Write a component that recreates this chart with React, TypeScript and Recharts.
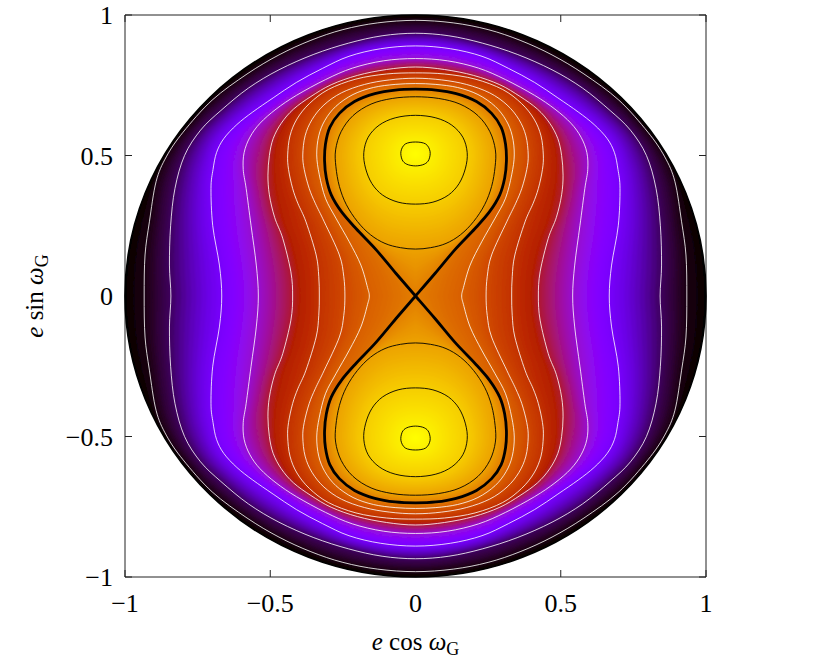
import React from 'react';
import { ScatterChart, Scatter, XAxis, YAxis } from 'recharts';

type P = [number, number];

const CHART_W = 830;
const CHART_H = 664;
const FONT = "'Liberation Serif', 'Times New Roman', serif";

// ---- axis ticks ----
const AXIS_TICKS = [-1, -0.5, 0, 0.5, 1];

// reference points of the e = 1 boundary circle
const boundaryRef = [
  { x: -1, y: 0 },
  { x: 1, y: 0 },
  { x: 0, y: 1 },
  { x: 0, y: -1 },
];

// fixed points (centres of the two islands)
const fixedPoints: P[] = [[0, 0.505], [0, -0.505]];

// ---- contour lines (quadrant x>=0, y>=0) ----
// white contours: from the e cos w axis crossing up to the e sin w axis crossing
const white1: P[] = [[0.934, 0], [0.931, 0.146], [0.916, 0.264], [0.893, 0.407], [0.858, 0.495], [0.8, 0.583], [0.7, 0.697], [0.58, 0.79], [0.47, 0.858], [0.36, 0.91], [0.25, 0.948], [0.13, 0.972], [0, 0.981]];
const white2: P[] = [[0.842, 0], [0.847, 0.11], [0.843, 0.25], [0.828, 0.383], [0.795, 0.5], [0.74, 0.59], [0.67, 0.66], [0.575, 0.74], [0.47, 0.805], [0.35, 0.86], [0.23, 0.9], [0.115, 0.926], [0, 0.935]];
const white3: P[] = [[0.667, 0], [0.675, 0.11], [0.698, 0.25], [0.704, 0.383], [0.697, 0.45], [0.685, 0.51], [0.66, 0.56], [0.615, 0.61], [0.56, 0.655], [0.49, 0.705], [0.41, 0.76], [0.32, 0.81], [0.229, 0.853], [0.12, 0.88], [0, 0.89]];
const white4: P[] = [[0.541, 0], [0.548, 0.11], [0.566, 0.25], [0.583, 0.383], [0.593, 0.45], [0.59, 0.51], [0.57, 0.565], [0.535, 0.615], [0.48, 0.665], [0.41, 0.714], [0.31, 0.77], [0.217, 0.811], [0.11, 0.837], [0, 0.845]];
const white5: P[] = [[0.423, 0], [0.429, 0.086], [0.457, 0.205], [0.485, 0.28], [0.503, 0.36], [0.508, 0.43], [0.503, 0.5], [0.49, 0.56], [0.462, 0.615], [0.42, 0.665], [0.36, 0.71], [0.29, 0.752], [0.2, 0.785], [0.1, 0.806], [0, 0.815]];
const white6: P[] = [[0.331, 0], [0.333, 0.07], [0.342, 0.146], [0.377, 0.264], [0.405, 0.33], [0.423, 0.383], [0.437, 0.45], [0.44, 0.502], [0.432, 0.57], [0.408, 0.63], [0.365, 0.685], [0.3, 0.735], [0.205, 0.772], [0.1, 0.79], [0, 0.794]];
const white7: P[] = [[0.243, 0], [0.247, 0.07], [0.262, 0.146], [0.314, 0.264], [0.345, 0.33], [0.366, 0.383], [0.383, 0.45], [0.388, 0.502], [0.38, 0.57], [0.356, 0.628], [0.315, 0.68], [0.255, 0.723], [0.175, 0.753], [0.09, 0.769], [0, 0.775]];
const white8: P[] = [[0.159, 0], [0.165, 0.03], [0.188, 0.11], [0.228, 0.193], [0.274, 0.277], [0.31, 0.348], [0.331, 0.431], [0.34, 0.502], [0.333, 0.57], [0.312, 0.625], [0.274, 0.675], [0.215, 0.717], [0.145, 0.742], [0.07, 0.753], [0, 0.756]];

// separatrix (thick black): right half of the upper lobe, from the origin to the top
const separatrix: P[] = [[0, 0], [0.067, 0.08], [0.136, 0.165], [0.205, 0.24], [0.255, 0.3], [0.29, 0.36], [0.307, 0.42], [0.313, 0.48], [0.31, 0.54], [0.295, 0.6], [0.262, 0.65], [0.21, 0.692], [0.14, 0.72], [0.07, 0.733], [0, 0.736]];

// thin black loops around the fixed point (0, 0.5): right half, top to bottom
const loop3: P[] = [[0, 0.709], [0.08, 0.703], [0.153, 0.683], [0.215, 0.642], [0.256, 0.585], [0.275, 0.52], [0.274, 0.46], [0.262, 0.39], [0.238, 0.325], [0.2, 0.265], [0.155, 0.218], [0.105, 0.187], [0.052, 0.172], [0, 0.167]];
const loop2: P[] = [[0, 0.643], [0.07, 0.634], [0.125, 0.608], [0.163, 0.565], [0.178, 0.51], [0.172, 0.455], [0.15, 0.4], [0.113, 0.359], [0.06, 0.334], [0, 0.327]];
const loop1: P[] = [[0, 0.548], [0.035, 0.541], [0.05, 0.515], [0.046, 0.485], [0.03, 0.469], [0, 0.463]];

// colour-map value (0 = black ... 1 = yellow) on each contour line
const levels = {
  boundary: 0.0,
  white1: 0.01,
  white2: 0.06,
  white3: 0.22,
  white4: 0.35,
  white5: 0.47,
  white6: 0.58,
  white7: 0.66,
  white8: 0.72,
  separatrix: 0.79,
  loop3: 0.86,
  loop2: 0.93,
  loop1: 0.98,
  centre: 1.0,
};

// ---- table building (symmetry of the picture) ----
type Row = { x: number; y: number };
type Shape = { rows: Row[]; segs: number[]; closed: boolean };

const toRows = (pts: P[]): Row[] => pts.map(([x, y]) => ({ x, y }));

function ring(q: P[]): Shape {
  const a = q;
  const b = [...q].reverse().map(([x, y]) => [-x, y] as P);
  const c = q.map(([x, y]) => [-x, -y] as P);
  const d = [...q].reverse().map(([x, y]) => [x, -y] as P);
  const pts = [...a, ...b, ...c, ...d];
  return { rows: toRows(pts), segs: [pts.length], closed: true };
}

function lobes(h: P[], closed: boolean): Shape {
  const upper = [...h, ...[...h].reverse().map(([x, y]) => [-x, y] as P)];
  const lower = upper.map(([x, y]) => [x, -y] as P);
  return { rows: toRows([...upper, ...lower]), segs: [upper.length, lower.length], closed };
}

const shapes = {
  white1: ring(white1),
  white2: ring(white2),
  white3: ring(white3),
  white4: ring(white4),
  white5: ring(white5),
  white6: ring(white6),
  white7: ring(white7),
  white8: ring(white8),
  separatrix: lobes(separatrix, false),
  loop3: lobes(loop3, true),
  loop2: lobes(loop2, true),
  loop1: lobes(loop1, true),
};
type Key = keyof typeof shapes;

const ringKeys: Key[] = ['white1', 'white2', 'white3', 'white4', 'white5', 'white6', 'white7', 'white8'];
const lobeKeys: Key[] = ['separatrix', 'loop3', 'loop2', 'loop1'];
const shadingKeys: Key[] = [...ringKeys, ...lobeKeys];
// one table for the colour field: boundary refs, fixed points, then every contour
const shadingRows: Row[] = [...boundaryRef, ...toRows(fixedPoints), ...shadingKeys.flatMap((k) => shapes[k].rows)];

// ---- drawing helpers ----
function palette(t: number): string {
  const c = Math.max(0, Math.min(1, t));
  const r = Math.sqrt(c);
  const g = c * c * c;
  const b = Math.max(0, Math.sin(2 * Math.PI * c));
  return `rgb(${Math.round(255 * r)},${Math.round(255 * g)},${Math.round(255 * b)})`;
}

type Pt = { x: number; y: number };

function dedupe(raw: Pt[], eps: number): Pt[] {
  const p: Pt[] = [];
  for (const q of raw) {
    const last = p[p.length - 1];
    if (!last || Math.hypot(q.x - last.x, q.y - last.y) > eps) p.push(q);
  }
  if (p.length > 2 && Math.hypot(p[0].x - p[p.length - 1].x, p[0].y - p[p.length - 1].y) < eps) p.pop();
  return p;
}

function smoothPath(raw: Pt[], closed: boolean): string {
  const p = dedupe(raw, 0.01);
  const n = p.length;
  if (n < 2) return '';
  const get = (i: number) => (closed ? p[((i % n) + n) % n] : p[Math.max(0, Math.min(n - 1, i))]);
  let d = `M${p[0].x.toFixed(2)},${p[0].y.toFixed(2)}`;
  const segCount = closed ? n : n - 1;
  for (let i = 0; i < segCount; i++) {
    const p0 = get(i - 1);
    const p1 = get(i);
    const p2 = get(i + 1);
    const p3 = get(i + 2);
    const c1x = p1.x + (p2.x - p0.x) / 6;
    const c1y = p1.y + (p2.y - p0.y) / 6;
    const c2x = p2.x - (p3.x - p1.x) / 6;
    const c2y = p2.y - (p3.y - p1.y) / 6;
    d += ` C${c1x.toFixed(2)},${c1y.toFixed(2)} ${c2x.toFixed(2)},${c2y.toFixed(2)} ${p2.x.toFixed(2)},${p2.y.toFixed(2)}`;
  }
  return d + ' Z';
}

// same curve as smoothPath, sampled densely (for the colour shading)
function densify(raw: Pt[], closed: boolean, steps = 8): Pt[] {
  const p = dedupe(raw, 0.01);
  const n = p.length;
  const get = (i: number) => (closed ? p[((i % n) + n) % n] : p[Math.max(0, Math.min(n - 1, i))]);
  const out: Pt[] = [];
  const segCount = closed ? n : n - 1;
  for (let i = 0; i < segCount; i++) {
    const p0 = get(i - 1);
    const p1 = get(i);
    const p2 = get(i + 1);
    const p3 = get(i + 2);
    const c1 = { x: p1.x + (p2.x - p0.x) / 6, y: p1.y + (p2.y - p0.y) / 6 };
    const c2 = { x: p2.x - (p3.x - p1.x) / 6, y: p2.y - (p3.y - p1.y) / 6 };
    for (let s = 0; s < steps; s++) {
      const u = s / steps;
      const a = (1 - u) * (1 - u) * (1 - u);
      const b = 3 * (1 - u) * (1 - u) * u;
      const c = 3 * (1 - u) * u * u;
      const d = u * u * u;
      out.push({ x: a * p1.x + b * c1.x + c * c2.x + d * p2.x, y: a * p1.y + b * c1.y + c * c2.y + d * p2.y });
    }
  }
  if (!closed) out.push(p[n - 1]);
  return out;
}

// distance from centre c to the farthest crossing of the ray (angle th) with the polylines
function rayRadius(polys: Pt[][], c: Pt, th: number): number {
  const dx = Math.cos(th);
  const dy = Math.sin(th);
  let best = 0;
  for (const poly of polys) {
    const n = poly.length;
    for (let i = 0; i < n; i++) {
      const a = poly[i];
      const b = poly[(i + 1) % n];
      const ax = a.x - c.x;
      const ay = a.y - c.y;
      const ex = b.x - a.x;
      const ey = b.y - a.y;
      const den = dx * ey - dy * ex;
      if (Math.abs(den) < 1e-12) continue;
      const t = (ax * ey - ay * ex) / den;
      const s = (ax * dy - ay * dx) / den;
      if (s >= -1e-9 && s <= 1 + 1e-9 && t > best) best = t;
    }
  }
  return best;
}

const noShape = () => <g />;

const makeStroke = (s: Shape, color: string, width: number, opacity = 1) => (props: any) => {
  const pts: Pt[] = props && props.points ? props.points : [];
  if (!pts.length) return <g />;
  let start = 0;
  let d = '';
  for (const len of s.segs) {
    d += smoothPath(pts.slice(start, start + len), s.closed) + ' ';
    start += len;
  }
  return <path d={d} fill="none" stroke={color} strokeWidth={width} strokeOpacity={opacity} strokeLinejoin="round" />;
};

function diskGeom(points: Pt[]) {
  const [l, r, t, b] = points;
  return { cx: (l.x + r.x) / 2, cy: (t.y + b.y) / 2, rx: (r.x - l.x) / 2, ry: (b.y - t.y) / 2, l, r, t, b };
}

const ANGLES = 360;
const SUBSTEPS = 10;

const renderShading = (props: any) => {
  const pts: Pt[] = props && props.points ? props.points : [];
  if (pts.length < shadingRows.length) return <g />;
  const g = diskGeom(pts);
  // work in axis-normalised units (the library's pixel points mapped back onto the unit disk)
  const toN = (p: Pt): Pt => ({ x: (p.x - g.cx) / g.rx, y: (g.cy - p.y) / g.ry });
  const toPx = (x: number, y: number) => `${(g.cx + x * g.rx).toFixed(2)},${(g.cy - y * g.ry).toFixed(2)}`;
  const fixedN = [toN(pts[4]), toN(pts[5])];
  let off = 6;
  const curves: Record<string, Pt[][]> = {};
  for (const k of shadingKeys) {
    const s = shapes[k];
    const sub = pts.slice(off, off + s.rows.length).map(toN);
    off += s.rows.length;
    const parts: Pt[][] = [];
    let st = 0;
    for (const len of s.segs) {
      parts.push(densify(sub.slice(st, st + len), s.closed));
      st += len;
    }
    curves[k] = parts;
  }
  const thetas = Array.from({ length: ANGLES }, (_, i) => (2 * Math.PI * i) / ANGLES);
  const origin = { x: 0, y: 0 };
  const radiiOf = (polys: Pt[][], c: Pt) => thetas.map((th) => rayRadius(polys, c, th));

  const paths: React.ReactNode[] = [];
  const drawBands = (rings: number[][], lv: number[], c: Pt, keyBase: string) => {
    for (let band = 0; band < rings.length - 1; band++) {
      const A = rings[band];
      const B = rings[band + 1];
      for (let j = 0; j < SUBSTEPS; j++) {
        const s = j / SUBSTEPS;
        const t = lv[band] + (lv[band + 1] - lv[band]) * ((j + 0.5) / SUBSTEPS);
        let d = '';
        for (let i = 0; i < ANGLES; i++) {
          const rr = A[i] + (B[i] - A[i]) * s;
          d += (i === 0 ? 'M' : 'L') + toPx(c.x + rr * Math.cos(thetas[i]), c.y + rr * Math.sin(thetas[i]));
        }
        paths.push(<path key={`${keyBase}-${band}-${j}`} d={d + 'Z'} fill={palette(t)} />);
      }
    }
  };

  // rings around the origin: boundary -> white1 ... white8 -> figure-eight
  const ringRadii = [thetas.map(() => 1.0), ...ringKeys.map((k) => radiiOf(curves[k], origin)), radiiOf(curves.separatrix, origin)];
  const ringLv = [levels.boundary, ...ringKeys.map((k) => levels[k]), levels.separatrix];
  drawBands(ringRadii, ringLv, origin, 'ring');

  // islands around the two fixed points
  const lobeLv = [...lobeKeys.map((k) => levels[k]), levels.centre];
  [0, 1].forEach((side) => {
    const c = fixedN[side];
    const radii = [...lobeKeys.map((k) => radiiOf([curves[k][side]], c)), thetas.map(() => 0)];
    drawBands(radii, lobeLv, c, 'lobe' + side);
  });

  return (
    <g>
      <defs>
        <clipPath id="diskClip">
          <ellipse cx={g.cx} cy={g.cy} rx={g.rx} ry={g.ry} />
        </clipPath>
        <filter id="softBlur" filterUnits="userSpaceOnUse" x={0} y={0} width={CHART_W} height={CHART_H}>
          <feGaussianBlur stdDeviation={1.2} />
        </filter>
      </defs>
      <ellipse cx={g.cx} cy={g.cy} rx={g.rx} ry={g.ry} fill={palette(levels.boundary)} />
      <g clipPath="url(#diskClip)">
        <g filter="url(#softBlur)">{paths}</g>
      </g>
    </g>
  );
};

const renderOutline = (props: any) => {
  const pts: Pt[] = props && props.points ? props.points : [];
  if (pts.length < 4) return <g />;
  const g = diskGeom(pts);
  return (
    <g>
      <ellipse cx={g.cx} cy={g.cy} rx={g.rx} ry={g.ry} fill="none" stroke="#000" strokeWidth={1.6} />
      <text x={g.cx} y={g.b.y + 73} textAnchor="middle" fontFamily={FONT} fontSize={25} fill="#000">
        <tspan fontStyle="italic">e</tspan>
        <tspan> cos </tspan>
        <tspan fontStyle="italic">ω</tspan>
        <tspan fontSize={18} dy={5}>G</tspan>
      </text>
      <text transform={`translate(${g.l.x - 82},${g.cy}) rotate(-90)`} textAnchor="middle" fontFamily={FONT} fontSize={25} fill="#000">
        <tspan fontStyle="italic">e</tspan>
        <tspan> sin </tspan>
        <tspan fontStyle="italic">ω</tspan>
        <tspan fontSize={18} dy={5}>G</tspan>
      </text>
    </g>
  );
};

const blackThinKeys: Key[] = ['loop3', 'loop2', 'loop1'];

const fmt = (v: number) => (v < 0 ? '\u2212' + String(Math.abs(v)) : String(v));

export default function App() {
  const tickStyle = { fill: '#000', fontSize: 26, fontFamily: FONT };
  return (
    <div style={{ position: 'absolute', left: 0, top: 0, width: CHART_W, height: CHART_H }}>
      <ScatterChart width={CHART_W} height={CHART_H} margin={{ top: 14, right: 123, bottom: 57, left: 65 }}>
        <Scatter data={shadingRows} line={renderShading} shape={noShape} isAnimationActive={false} />
        {ringKeys.map((k) => (
          <Scatter key={'w-' + k} data={shapes[k].rows} line={makeStroke(shapes[k], '#ffffff', 0.9, 0.9)} shape={noShape} isAnimationActive={false} />
        ))}
        {blackThinKeys.map((k) => (
          <Scatter key={'b-' + k} data={shapes[k].rows} line={makeStroke(shapes[k], '#000000', 0.9)} shape={noShape} isAnimationActive={false} />
        ))}
        <Scatter data={shapes.separatrix.rows} line={makeStroke(shapes.separatrix, '#000000', 2.8)} shape={noShape} isAnimationActive={false} />
        <Scatter data={boundaryRef} line={renderOutline} shape={noShape} isAnimationActive={false} />
        <Scatter data={boundaryRef} xAxisId="top" yAxisId="right" shape={noShape} isAnimationActive={false} />

        <XAxis dataKey="x" type="number" domain={[-1, 1]} ticks={AXIS_TICKS} interval={0} orientation="bottom" height={30}
          tickSize={-7} tickMargin={24} tickFormatter={fmt} tick={tickStyle} axisLine={{ stroke: '#222' }} tickLine={{ stroke: '#222' }} />
        <XAxis xAxisId="top" dataKey="x" type="number" domain={[-1, 1]} ticks={AXIS_TICKS} interval={0} orientation="top" height={1}
          tickSize={-7} tick={noShape} axisLine={{ stroke: '#222' }} tickLine={{ stroke: '#222' }} />
        <YAxis dataKey="y" type="number" domain={[-1, 1]} ticks={AXIS_TICKS} interval={0} orientation="left" width={60}
          tickSize={-7} tickMargin={19} tickFormatter={fmt} tick={tickStyle} axisLine={{ stroke: '#222' }} tickLine={{ stroke: '#222' }} />
        <YAxis yAxisId="right" dataKey="y" type="number" domain={[-1, 1]} ticks={AXIS_TICKS} interval={0} orientation="right" width={1}
          tickSize={-7} tick={noShape} axisLine={{ stroke: '#222' }} tickLine={{ stroke: '#222' }} />
      </ScatterChart>
    </div>
  );
}
